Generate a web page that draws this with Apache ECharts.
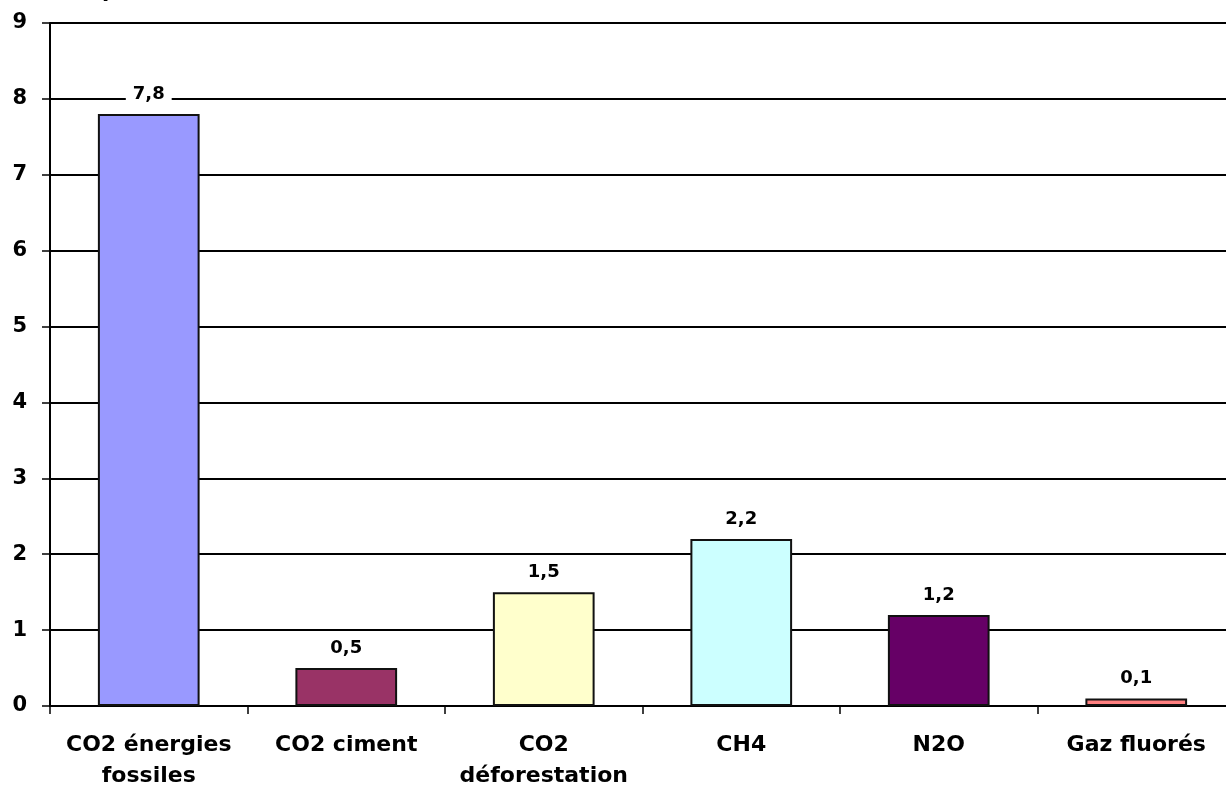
<!DOCTYPE html>
<html>
<head>
<meta charset="utf-8">
<script src="https://cdn.jsdelivr.net/npm/echarts@6/dist/echarts.min.js"></script>
<style>
  html, body { margin: 0; padding: 0; background: #fff; }
  #chart { width: 1226px; height: 785px; }
</style>
</head>
<body>
<div id="chart"></div>
<script>
// Greenhouse gas emissions by source
const categories = ['CO2 énergies\nfossiles', 'CO2 ciment', 'CO2\ndéforestation', 'CH4', 'N2O', 'Gaz fluorés'];
const values = [7.8, 0.5, 1.5, 2.2, 1.2, 0.1];
const barColors = ['#9999ff', '#993366', '#ffffcc', '#ccffff', '#660066', '#ff8080'];
const yTicks = { min: 0, max: 9, interval: 1 };
const titleText = '(en GtC par année, 2004)';

const font = 'DejaVu Sans, Verdana, sans-serif';
const chart = echarts.init(document.getElementById('chart'), null, { renderer: 'canvas' });

chart.setOption({
  animation: false,
  backgroundColor: '#ffffff',
  graphic: [{
    type: 'text',
    left: 6,
    top: -19,
    style: { text: titleText, font: 'bold 21px ' + font, fill: '#000' }
  }],
  // plot area runs past the right edge of the canvas
  grid: {
    left: 50, top: 23, width: 1185, height: 683,
    containLabel: false,
    outerBoundsMode: 'none'
  },
  xAxis: {
    type: 'category',
    data: categories,
    axisLine: { show: true, lineStyle: { color: '#000', width: 2 } },
    axisTick: { show: true, length: 8, alignWithLabel: false, lineStyle: { color: '#000', width: 1.5 } },
    axisLabel: {
      interval: 0,
      margin: 24,
      color: '#000',
      fontFamily: font,
      fontWeight: 'bold',
      fontSize: 22,
      lineHeight: 31
    },
    splitLine: { show: false }
  },
  yAxis: {
    type: 'value',
    min: yTicks.min,
    max: yTicks.max,
    interval: yTicks.interval,
    axisLine: { show: true, lineStyle: { color: '#000', width: 2 } },
    axisTick: { show: true, length: 8, lineStyle: { color: '#000', width: 1.5 } },
    axisLabel: {
      margin: 23,
      color: '#000',
      fontFamily: font,
      fontWeight: 'bold',
      fontSize: 21
    },
    splitLine: { show: true, lineStyle: { color: '#000', width: 2 } }
  },
  series: [{
    type: 'bar',
    barWidth: '51.5%',
    data: values.map((v, i) => ({
      value: v,
      itemStyle: { color: barColors[i] }
    })),
    itemStyle: { borderColor: '#111', borderWidth: 2 },
    label: {
      show: true,
      position: 'top',
      distance: 10,
      color: '#000',
      fontFamily: font,
      fontWeight: 'bold',
      fontSize: 18,
      backgroundColor: '#fff',
      padding: [1, 7],
      formatter: p => String(p.value).replace('.', ',')
    }
  }]
});
</script>
</body>
</html>
